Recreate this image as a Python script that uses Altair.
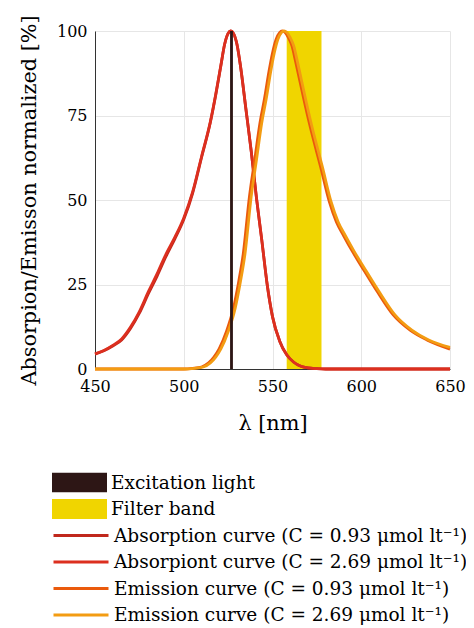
import altair as alt
import pandas as pd

FONT = "DejaVu Serif"

# ---------- data ----------
abs1_wl = [450, 455, 460, 465, 470, 475, 480, 485, 490, 495, 500, 505, 510, 515, 518, 521, 523, 525, 526.5,
           528, 530, 532, 535, 538, 541, 544, 547, 550, 554, 558, 562, 566, 570, 575, 580, 650]
abs1_val = [4.4, 5.4, 6.8, 8.6, 12.0, 16.5, 22.2, 27.5, 33.3, 38.5, 44.2, 52.0, 62.5, 73.0, 81.0, 90.0, 96.0, 99.3, 100.0,
            99.3, 96.0, 89.5, 77.0, 64.5, 50.5, 38.0, 25.0, 15.5, 8.3, 4.2, 2.0, 0.8, 0.3, 0.1, 0.0, 0.0]

abs2_wl = abs1_wl
abs2_val = [4.5, 5.5, 7.0, 8.9, 12.4, 17.0, 22.8, 28.2, 34.0, 39.0, 44.7, 52.4, 62.8, 73.2, 81.2, 90.1, 96.0, 99.3, 100.0,
            99.3, 96.0, 89.5, 77.0, 64.5, 50.5, 38.0, 25.0, 15.5, 8.3, 4.2, 2.0, 0.8, 0.3, 0.1, 0.0, 0.0]

em1_wl = [450, 500, 505, 510, 514, 517, 520, 524, 528, 531, 533.5, 537, 540, 543, 545.5, 548, 550, 552, 554,
          555.5, 557, 559, 561, 563, 565.5, 568, 571, 574, 577, 582, 586, 590, 595, 600, 609, 618, 627.5, 637, 650]
em1_val = [0.0, 0.0, 0.2, 0.6, 1.8, 3.5, 6.0, 11.0, 18.0, 26.0, 34.0, 51.0, 62.0, 73.0, 80.0, 88.0, 93.5, 97.5, 99.5,
           100.0, 99.6, 98.0, 95.5, 91.0, 85.0, 79.0, 72.2, 66.0, 60.0, 49.5, 43.5, 39.5, 34.8, 30.5, 22.9, 16.0, 11.5, 8.6, 5.9]

em2_wl = [450, 501, 506, 511, 515, 518, 521, 525, 529, 532, 534.5, 538, 541, 544, 546.5,
          549, 551, 553, 555, 556.5, 558, 560, 562, 564, 566.5, 569, 572, 575, 578,
          583, 587, 591, 596, 601, 610, 619, 628.5, 638, 650]
em2_val = [0.0, 0.0, 0.2, 0.6, 1.8, 3.5, 6.0, 11.0, 18.0, 26.0, 34.0, 51.0, 62.0, 73.0, 80.0, 88.0, 93.5, 97.5, 99.5,
           100.0, 99.6, 98.0, 95.5, 91.0, 85.0, 79.0, 72.2, 66.0, 60.0, 49.5, 43.5, 39.5, 34.8, 30.5, 22.9, 16.0, 11.5, 8.6, 6.4]

line_names = ["Absorption curve (C = 0.93 μmol lt⁻¹)",
              "Absorpiont curve (C = 2.69 μmol lt⁻¹)",
              "Emission curve (C = 0.93 μmol lt⁻¹)",
              "Emission curve (C = 2.69 μmol lt⁻¹)"]
line_colors = ["#c0281c", "#dc2f1f", "#ea5a0c", "#f39c12"]

patch_names = ["Excitation light", "Filter band"]
patch_colors = ["#2d1615", "#f0d500"]
excitation_band = [526.1, 527.7]
filter_band = [558.0, 577.6]

x_ticks = [450, 500, 550, 600, 650]
y_ticks = [0, 25, 50, 75, 100]

# ---------- tables ----------
rows = []
for name, wl, val in zip(line_names, [abs1_wl, abs2_wl, em1_wl, em2_wl],
                         [abs1_val, abs2_val, em1_val, em2_val]):
    for w, v in zip(wl, val):
        rows.append({"wl": w, "val": v, "series": name})
lines_df = pd.DataFrame(rows)

filter_df = pd.DataFrame([{"x0": filter_band[0], "x1": filter_band[1], "y0": 0, "y1": 100,
                           "name": patch_names[1]}])
exc_df = pd.DataFrame([{"x0": excitation_band[0], "x1": excitation_band[1], "y0": 0, "y1": 100,
                        "name": patch_names[0]}])

xscale = alt.Scale(domain=[450, 650], nice=False, zero=False)
yscale = alt.Scale(domain=[0, 100], nice=False)

xaxis = alt.Axis(values=x_ticks, title="λ [nm]", grid=True, ticks=False, labelFlush=False,
                 labelPadding=9, titlePadding=19)
yaxis = alt.Axis(values=y_ticks, title="Absorpion/Emisson normalized [%]", grid=True, ticks=False,
                 labelFlush=False, labelPadding=8, titlePadding=17)

fill_legend = alt.Legend(title=None, orient="none", legendX=-43, legendY=441.5,
                         symbolType="M-1,-0.364H1V0.364H-1Z", symbolSize=3025,
                         symbolStrokeWidth=0, symbolOpacity=1, labelFont=FONT, labelFontSize=18.5,
                         labelLimit=600, clipHeight=20, rowPadding=6.5, symbolOffset=0,
                         padding=0, labelOffset=4)
stroke_legend = alt.Legend(title=None, orient="none", legendX=-43, legendY=494.5,
                           symbolType="stroke", symbolSize=3025, symbolStrokeWidth=2.8,
                           labelFont=FONT, labelFontSize=18.5, labelLimit=600, clipHeight=20,
                           rowPadding=6.5, symbolOffset=0, padding=0, labelOffset=4)

fill_scale = alt.Scale(domain=patch_names, range=patch_colors)

band = alt.Chart(filter_df).mark_rect(opacity=1).encode(
    x=alt.X("x0:Q", scale=xscale, axis=xaxis),
    x2="x1:Q",
    y=alt.Y("y0:Q", scale=yscale, axis=yaxis),
    y2="y1:Q",
    fill=alt.Fill("name:N", scale=fill_scale, legend=fill_legend),
)

exc = alt.Chart(exc_df).mark_rect(opacity=1).encode(
    x=alt.X("x0:Q", scale=xscale),
    x2="x1:Q",
    y=alt.Y("y0:Q", scale=yscale),
    y2="y1:Q",
    fill=alt.Fill("name:N", scale=fill_scale, legend=fill_legend),
)

lines = alt.Chart(lines_df).mark_line(strokeWidth=2.8, interpolate="monotone").encode(
    x=alt.X("wl:Q", scale=xscale),
    y=alt.Y("val:Q", scale=yscale),
    stroke=alt.Stroke("series:N", scale=alt.Scale(domain=line_names, range=line_colors),
                      sort=line_names, legend=stroke_legend),
    order=alt.Order("wl:Q"),
)

chart = alt.layer(band, lines, exc).properties(
    width=355, height=338,
    autosize=alt.AutoSizeParams(type="none"),
    padding={"left": 87, "top": 23, "right": 16, "bottom": 259},
).configure_view(stroke=None).configure_axis(
    labelFont=FONT, labelFontSize=16, labelColor="#000",
    titleFont=FONT, titleFontSize=20.8, titleFontWeight="normal", titleColor="#000",
    gridColor="#e6e6e6", gridWidth=1, domainColor="#333", domainWidth=1,
).configure_legend(labelColor="#000")

chart.save("out.html", embed_options={"renderer": "svg", "actions": False})
